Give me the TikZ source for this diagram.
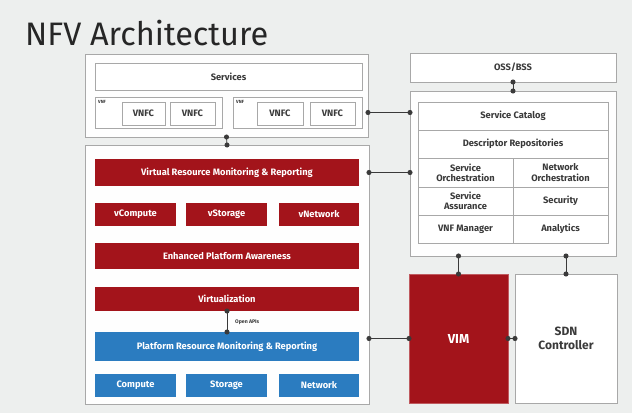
\documentclass[tikz,border=0pt]{standalone}
\usepackage{fontspec}
\setmainfont{Fira Sans}
\usetikzlibrary{arrows.meta}

\definecolor{nfvRed}{HTML}{A3141B}
\definecolor{nfvBlue}{HTML}{2B7CC0}
\definecolor{nfvBack}{HTML}{EDEFEE}
\definecolor{nfvLine}{HTML}{A8A8A8}
\definecolor{nfvText}{HTML}{3A3A3A}

\begin{document}
\begin{tikzpicture}[x=1pt,y=-1pt,
        boxNode/.style = {anchor=north west,inner sep=0pt,outer sep=0pt,align=center},
        outerBox/.style = {boxNode,draw=nfvLine,fill=white!96!nfvBack,line width=0.9pt},
        grayBox/.style = {boxNode,draw=nfvLine,fill=white,line width=0.8pt,text=nfvText,font=\bfseries\fontsize{9.3}{10.2}\selectfont},
        redNode/.style = {boxNode,fill=nfvRed,text=white,font=\bfseries\fontsize{9.3}{10.2}\selectfont},
        blueNode/.style = {boxNode,fill=nfvBlue,text=white,font=\bfseries\fontsize{9.3}{10.2}\selectfont},
        vimNode/.style = {boxNode,fill=nfvRed,draw=nfvRed!70,text=white,font=\bfseries\fontsize{13}{15}\selectfont},
        tinyLabel/.style = {anchor=north west,inner sep=0pt,text=nfvText,font=\bfseries\fontsize{4.5}{5}\selectfont},
        link/.style = {draw=nfvText,line width=0.8pt,{Circle[length=5pt]}-{Circle[length=5pt]},shorten <=-2.5pt,shorten >=-2.5pt}
        ]
        \fill[nfvBack] (0,0) rectangle (632,413);
        \useasboundingbox (0,0) rectangle (632,413);
        \node[anchor=base west,inner sep=0pt,text=black!85,font=\fontsize{32.5}{36}\selectfont] (title) at (25,45) {NFV Architecture};

        % services and VNFs
        \node[outerBox,minimum width=283pt,minimum height=83pt] (svcOuter) at (85,54) {};
        \node[grayBox,minimum width=267pt,minimum height=27pt] (services) at (95,63) {Services};
        \node[grayBox,minimum width=127pt,minimum height=31pt] (vnfOne) at (95,97) {};
        \node[grayBox,minimum width=129pt,minimum height=31pt] (vnfTwo) at (233,97) {};
        \node[tinyLabel] at ([shift={(3,3)}]vnfOne.north west) {VNF};
        \node[tinyLabel] at ([shift={(3,3)}]vnfTwo.north west) {VNF};
        \node[grayBox,minimum width=43pt,minimum height=23pt] (vnfcA) at (122,102) {VNFC};
        \node[grayBox,minimum width=45pt,minimum height=23pt] (vnfcB) at (170,102) {VNFC};
        \node[grayBox,minimum width=46pt,minimum height=23pt] (vnfcC) at (257,102) {VNFC};
        \node[grayBox,minimum width=45pt,minimum height=23pt] (vnfcD) at (310,102) {VNFC};

        % NFVI
        \node[outerBox,minimum width=284pt,minimum height=259pt] (nfvi) at (85,145) {};
        \node[redNode,minimum width=264pt,minimum height=27pt] (vrmr) at (95,159) {Virtual Resource Monitoring \& Reporting};
        \node[redNode,minimum width=81pt,minimum height=23pt] (vCompute) at (95,203) {vCompute};
        \node[redNode,minimum width=81pt,minimum height=23pt] (vStorage) at (186,203) {vStorage};
        \node[redNode,minimum width=80pt,minimum height=23pt] (vNetwork) at (279,203) {vNetwork};
        \node[redNode,minimum width=264pt,minimum height=26pt] (epa) at (95,243) {Enhanced Platform Awareness};
        \node[redNode,minimum width=264pt,minimum height=24pt] (virt) at (95,287) {Virtualization};
        \node[blueNode,minimum width=264pt,minimum height=29pt] (prmr) at (95,332) {Platform Resource Monitoring \& Reporting};
        \node[blueNode,minimum width=81pt,minimum height=23pt] (compute) at (95,374) {Compute};
        \node[blueNode,minimum width=81pt,minimum height=23pt] (storage) at (186,374) {Storage};
        \node[blueNode,minimum width=80pt,minimum height=23pt] (network) at (279,374) {Network};
        \node[tinyLabel,anchor=west,font=\bfseries\fontsize{5.2}{6}\selectfont] (openApis) at (235,322) {Open APIs};

        % MANO
        \node[grayBox,minimum width=206pt,minimum height=29pt] (oss) at (410,53) {OSS/BSS};
        \node[outerBox,minimum width=206pt,minimum height=165pt] (mano) at (410,91) {};
        \node[grayBox,minimum width=190pt,minimum height=28pt] (catalog) at (418,102) {Service Catalog};
        \node[grayBox,minimum width=190pt,minimum height=28pt] (repos) at (418,130) {Descriptor Repositories};
        \node[grayBox,minimum width=95pt,minimum height=29pt] (svcOrch) at (418,158) {Service\\Orchestration};
        \node[grayBox,minimum width=95pt,minimum height=29pt] (netOrch) at (513,158) {Network\\Orchestration};
        \node[grayBox,minimum width=95pt,minimum height=28pt] (svcAssur) at (418,187) {Service\\Assurance};
        \node[grayBox,minimum width=95pt,minimum height=28pt] (security) at (513,187) {Security};
        \node[grayBox,minimum width=95pt,minimum height=28pt] (vnfm) at (418,215) {VNF Manager};
        \node[grayBox,minimum width=95pt,minimum height=28pt] (analytics) at (513,215) {Analytics};

        % VIM and SDN
        \node[vimNode,minimum width=99pt,minimum height=129pt] (vim) at (409,274) {VIM};
        \node[grayBox,minimum width=102pt,minimum height=129pt,font=\bfseries\fontsize{12}{14}\selectfont] (sdn) at (515,274) {SDN\\Controller};

        % connectors
        \draw[link] (svcOuter.south) -- (nfvi.north);
        \draw[link] (svcOuter.east |- vnfTwo) -- (mano.west |- vnfTwo);
        \draw[link] (nfvi.east |- vrmr) -- (mano.west |- vrmr);
        \draw[link] (oss.south) -- (mano.north);
        \draw[link] (vim.north |- mano.south) -- (vim.north);
        \draw[link] (sdn.north |- mano.south) -- (sdn.north);
        \draw[link] (nfvi.east |- vim) -- (vim.west);
        \draw[link] (vim.east) -- (sdn.west);
        \draw[link] (virt.south) -- (prmr.north);
    \end{tikzpicture}
\end{document}
